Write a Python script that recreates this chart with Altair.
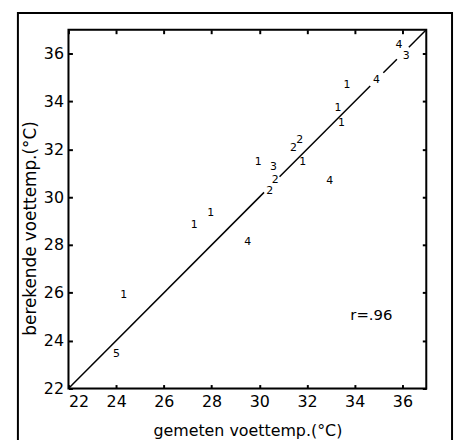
import altair as alt
import pandas as pd

# --- data ---
labels = ["4", "3", "1", "4", "1", "1", "2", "2", "1", "3", "1", "4", "2", "2", "1", "1", "4", "1", "5"]
measured = [35.86, 36.16, 33.68, 34.91, 33.30, 33.45, 31.70, 31.43, 29.95, 30.59,
            31.82, 32.95, 30.67, 30.44, 27.96, 27.27, 29.51, 24.32, 24.01]
computed = [36.36, 35.92, 34.70, 34.91, 33.71, 33.12, 32.37, 32.06, 31.45, 31.25,
            31.47, 30.69, 30.70, 30.24, 29.35, 28.85, 28.12, 25.90, 23.44]

# identity line y = x, drawn in pieces (gaps where digits sit on it)
seg_start = [22.0, 30.85, 35.2, 36.27]
seg_end = [30.2, 34.65, 35.77, 37.0]

tick_values = [22, 24, 26, 28, 30, 32, 34, 36]
domain = [22, 37]

r_text = ["r=.96"]
r_x = [34.7]
r_y = [25.08]

x_title = "gemeten voettemp.(°C)"
y_title = "berekende voettemp.(°C)"

pts = pd.DataFrame({"x": measured, "y": computed, "label": labels})
segs = pd.DataFrame({"x": seg_start, "y": seg_start, "x2": seg_end, "y2": seg_end})
rdf = pd.DataFrame({"x": r_x, "y": r_y, "t": r_text})

W, H = 361, 362
FONT = "DejaVu Sans"
xs = alt.Scale(domain=domain, nice=False, zero=False)
ys = alt.Scale(domain=domain, nice=False, zero=False)

common_axis = dict(values=tick_values, offset=-4, tickSize=4, domain=False, grid=False,
                   tickColor="black", tickWidth=2, labelColor="black",
                   labelFont=FONT, labelFontSize=16, titleFont=FONT,
                   titleFontWeight="normal", titleColor="black")

x_bottom = alt.Axis(orient="bottom", title=x_title, labelPadding=5, titlePadding=13,
                    titleFontSize=16, **common_axis)
y_left = alt.Axis(orient="left", title=y_title, labelPadding=5, titlePadding=4,
                  titleFontSize=17, titleY=200, **common_axis)
x_top = alt.Axis(orient="top", title=None, labels=False, **common_axis)
y_right = alt.Axis(orient="right", title=None, labels=False, **common_axis)

points = alt.Chart(pts).mark_text(font=FONT, fontSize=11, color="black", align="center",
                                  baseline="middle").encode(
    x=alt.X("x:Q", scale=xs, axis=x_bottom),
    y=alt.Y("y:Q", scale=ys, axis=y_left),
    text="label:N",
)

line = alt.Chart(segs).mark_rule(color="black", strokeWidth=1.5).encode(
    x=alt.X("x:Q", scale=xs, axis=x_top),
    y=alt.Y("y:Q", scale=ys, axis=y_right),
    x2="x2:Q",
    y2="y2:Q",
)

rlabel = alt.Chart(rdf).mark_text(font=FONT, fontSize=15, color="black", align="center",
                                  baseline="middle").encode(
    x=alt.X("x:Q", scale=xs, axis=None),
    y=alt.Y("y:Q", scale=ys, axis=None),
    text="t:N",
)

# plot-area box
box = alt.Chart(rdf).mark_rect(filled=False, stroke="black", strokeWidth=2).encode(
    x=alt.value(0), x2=alt.value(W), y=alt.value(0), y2=alt.value(H)
)

# outer figure frame
frame = alt.Chart(rdf).mark_rect(filled=False, stroke="black", strokeWidth=2).encode(
    x=alt.value(-51), x2=alt.value(387), y=alt.value(-17), y2=alt.value(440)
)

chart = alt.layer(frame, box, line, points, rlabel).resolve_axis(
    x="independent", y="independent"
).properties(
    width=W, height=H,
    autosize=alt.AutoSizeParams(type="none"),
    padding={"left": 61, "top": 20, "right": 30, "bottom": 50},
).configure_view(strokeWidth=0).configure(background="white")

chart.save("out.html", embed_options={"renderer": "svg", "actions": False})
